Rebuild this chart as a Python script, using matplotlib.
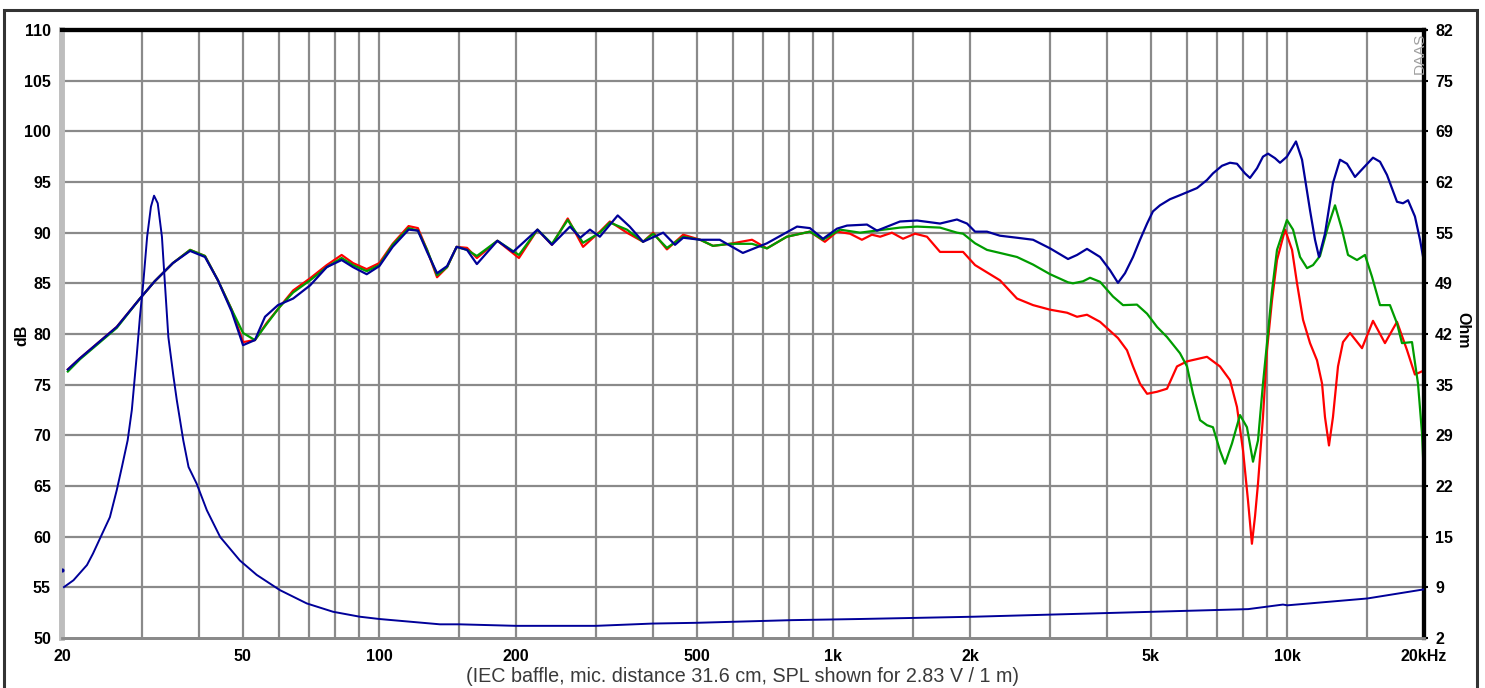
import matplotlib
matplotlib.use('Agg')
import matplotlib.pyplot as plt
import numpy as np

plt.rcParams['font.family'] = ['Liberation Sans', 'DejaVu Sans']

# ---- data ----
# SPL, red curve (Hz, dB)
red_f = [20.6, 21.9, 26.4, 29.7, 32.0, 35.1, 38.3, 41.3, 44.1, 47.3, 50.1, 53.2, 56.5, 60.4, 64.6,
         70.4, 76.6, 82.6, 87.5, 93.8, 100, 107, 116, 121.6, 127.4, 134, 141, 148, 156, 164, 182,
         203, 223, 240, 260, 281, 306, 322, 351, 381, 401, 430, 467, 509, 543, 592, 662, 714, 790,
         888, 958, 1019, 1088, 1156, 1216, 1268, 1346, 1424, 1513, 1608, 1718, 1931, 2052, 2328,
         2538, 2754, 3002, 3272, 3442, 3620, 3868, 4236, 4434, 4572, 4737, 4910, 5164, 5432, 5714,
         6012, 6654, 7106, 7476, 7746, 7988, 8190, 8356, 8488, 8618, 8838, 9020, 9254, 9490, 9884,
         10242, 10504, 10830, 11220, 11624, 11926, 12104, 12352, 12604, 12930, 13262, 13742,
         14604, 15442, 16408, 17440, 18352, 19100, 20000]
red_db = [76.5, 77.6, 80.7, 83.5, 85.2, 87.0, 88.3, 87.7, 85.3, 82.4, 79.2, 79.4, 81.1, 82.7, 84.3,
          85.5, 86.8, 87.8, 87.0, 86.4, 87.0, 88.9, 90.65, 90.45, 88.3, 85.6, 86.6, 88.6, 88.5, 87.5,
          89.2, 87.5, 90.3, 88.8, 91.4, 88.6, 90.1, 91.1, 90.0, 89.1, 90.0, 88.35, 89.8, 89.3, 88.7,
          88.9, 89.3, 88.45, 89.6, 90.1, 89.1, 90.1, 89.9, 89.3, 89.8, 89.6, 90.0, 89.4, 89.9, 89.6,
          88.1, 88.1, 86.8, 85.3, 83.5, 82.85, 82.4, 82.1, 81.7, 81.9, 81.2, 79.6, 78.4, 76.8, 75.1,
          74.1, 74.3, 74.6, 76.8, 77.3, 77.75, 76.8, 75.45, 72.8, 68.5, 63.6, 59.3, 62.0, 65.25,
          71.8, 78.4, 83.35, 87.3, 90.3, 88.3, 85.0, 81.4, 79.1, 77.4, 75.1, 71.8, 69.0, 71.8, 76.8,
          79.2, 80.1, 78.6, 81.3, 79.1, 81.2, 78.4, 76.0, 76.4]

# SPL, green curve
green_f = [20.6, 21.9, 26.4, 29.7, 32.0, 35.1, 38.3, 41.3, 44.1, 47.3, 50.1, 53.2, 56.5, 60.4, 64.6,
           70.4, 76.6, 82.6, 87.5, 93.8, 100, 107, 116, 121.6, 127.4, 134, 141, 148, 156, 164, 182,
           203, 223, 240, 260, 281, 306, 322, 351, 381, 401, 430, 467, 509, 543, 592, 662, 714, 790,
           888, 949, 1034, 1145, 1402, 1529, 1718, 1872, 1931, 2052, 2180, 2328, 2538, 2754, 3002,
           3288, 3372, 3548, 3676, 3868, 4130, 4346, 4664, 4910, 5164, 5432, 5802, 6012, 6198,
           6422, 6654, 6858, 7106, 7290, 7552, 7866, 8148, 8402, 8618, 8838, 9020, 9254, 9490,
           9980, 10294, 10666, 11052, 11392, 11802, 12290, 12736, 13196, 13604, 14238, 14826,
           15364, 16000, 16828, 17440, 17888, 18820, 19400, 19800, 20000]
green_db = [76.3, 77.5, 80.6, 83.5, 85.2, 87.0, 88.3, 87.7, 85.3, 82.4, 80.1, 79.4, 81.0, 82.7, 84.1,
            85.3, 86.6, 87.5, 86.8, 86.2, 86.8, 88.8, 90.45, 90.2, 88.3, 85.8, 86.6, 88.6, 88.3, 87.7,
            89.2, 87.8, 90.3, 88.9, 91.25, 89.0, 90.0, 91.0, 90.3, 89.1, 89.9, 88.5, 89.6, 89.3, 88.7,
            88.9, 88.9, 88.45, 89.6, 90.1, 89.3, 90.3, 90.0, 90.5, 90.6, 90.5, 90.0, 89.9, 88.95,
            88.3, 88.0, 87.6, 86.85, 85.9, 85.1, 85.0, 85.2, 85.55, 85.15, 83.7, 82.85, 82.9, 82.0,
            80.7, 79.7, 78.1, 76.8, 74.1, 71.5, 71.0, 70.8, 68.5, 67.2, 69.2, 72.0, 70.8, 67.4, 69.5,
            75.1, 79.1, 84.3, 88.3, 91.25, 90.3, 87.6, 86.5, 86.8, 87.7, 90.6, 92.7, 90.3, 87.8,
            87.3, 87.8, 85.65, 82.85, 82.85, 81.05, 79.1, 79.2, 75.1, 70.2, 65.75]

# SPL, dark blue curve
blue_f = [20.6, 21.9, 26.4, 29.7, 32.0, 35.1, 38.3, 41.3, 44.1, 47.3, 50.1, 53.2, 56.0, 59.8, 64.6,
          70.4, 76.6, 82.6, 87.5, 93.8, 100, 107, 116, 121.6, 127.4, 134, 141, 148, 156, 164, 182,
          197, 223, 240, 263, 277, 291, 306, 335, 356, 381, 422, 448, 467, 509, 562, 632, 714, 832,
          888, 949, 1019, 1072, 1186, 1248, 1402, 1529, 1718, 1872, 1970, 2052, 2180, 2328, 2538,
          2754, 3002, 3288, 3442, 3620, 3868, 4068, 4236, 4390, 4572, 4737, 4910, 5058, 5242, 5514,
          5802, 6325, 6654, 6858, 7178, 7476, 7746, 8068, 8274, 8574, 8838, 9066, 9394, 9636, 9980,
          10448, 10774, 11220, 11508, 11742, 12104, 12604, 13062, 13534, 14094, 14678, 15442,
          16000, 16576, 17440, 17978, 18444, 19100, 19600, 20000]
blue_db = [76.5, 77.6, 80.7, 83.5, 85.2, 87.0, 88.2, 87.6, 85.3, 82.2, 78.9, 79.4, 81.7, 82.85, 83.5,
           84.8, 86.6, 87.3, 86.6, 85.9, 86.7, 88.6, 90.3, 90.2, 88.1, 86.0, 86.7, 88.6, 88.3, 86.9,
           89.2, 88.1, 90.3, 88.8, 90.6, 89.5, 90.3, 89.6, 91.7, 90.6, 89.1, 90.0, 88.8, 89.5, 89.3,
           89.3, 88.0, 88.95, 90.6, 90.45, 89.4, 90.4, 90.7, 90.8, 90.2, 91.1, 91.2, 90.9, 91.3,
           90.9, 90.1, 90.1, 89.7, 89.5, 89.3, 88.45, 87.4, 87.8, 88.4, 87.6, 86.3, 85.05, 86.0,
           87.6, 89.3, 90.9, 92.1, 92.7, 93.3, 93.7, 94.4, 95.2, 95.85, 96.6, 96.9, 96.8, 95.85,
           95.4, 96.35, 97.5, 97.8, 97.35, 96.9, 97.5, 99.0, 97.2, 92.2, 89.3, 87.6, 89.9, 94.9,
           97.2, 96.8, 95.5, 96.35, 97.4, 97.0, 95.7, 93.05, 92.9, 93.2, 91.6, 89.3, 87.1]

# impedance (Hz, Ohm)
imp_f = [20.2, 21.2, 22.7, 23.4, 24.25, 25.5, 26.4, 27.1, 27.9, 28.5, 29.2, 29.7, 30.2, 30.8, 31.4,
         31.9, 32.5, 33.2, 33.7, 34.3, 35.2, 35.8, 37.0, 38.0, 39.6, 41.7, 44.6, 49.3, 53.7, 60.4,
         69.2, 79.1, 90.6, 100, 136, 150, 200, 300, 400, 500, 810, 1145, 2040, 4100, 8200, 9780,
         10000, 15000, 20000]
imp_ohm = [8.7, 9.6, 11.6, 13.1, 15.1, 17.9, 21.45, 24.5, 28.0, 32.0, 39.0, 44.3, 48.7, 54.8, 58.75,
           60.2, 59.2, 54.8, 48.7, 41.6, 36.4, 33.3, 28.0, 24.5, 22.3, 18.8, 15.3, 12.2, 10.3, 8.3,
           6.55, 5.45, 4.8, 4.5, 3.8, 3.8, 3.6, 3.6, 3.9, 4.0, 4.35, 4.5, 4.8, 5.3, 5.8, 6.4,
           6.3, 7.2, 8.4]
imp_dot_f = [20.05]
imp_dot_ohm = [10.9]

# axis labels
x_grid = [30, 40, 50, 60, 70, 80, 90, 100, 150, 200, 300, 400, 500, 600, 700, 800, 900,
          1000, 1500, 2000, 3000, 4000, 5000, 6000, 7000, 8000, 9000, 10000, 15000]
x_ticks = [20, 50, 100, 200, 500, 1000, 2000, 5000, 10000, 20000]
x_labels = ['20', '50', '100', '200', '500', '1k', '2k', '5k', '10k', '20kHz']
db_ticks = list(range(50, 111, 5))
ohm_labels = ['2', '9', '15', '22', '29', '35', '42', '49', '55', '62', '69', '75', '82']

# ---- figure ----
fig = plt.figure(figsize=(14.85, 6.88), dpi=100)
ax = fig.add_axes([62 / 1485, 1 - 638 / 688, (1424 - 62) / 1485, (638 - 30) / 688])

ax.set_xscale('log')
ax.set_xlim(20, 20000)
ax.set_ylim(50, 110)

grid_c = '#8a8a8a'
for f in x_grid:
    ax.axvline(f, color=grid_c, lw=1.6, zorder=1)
for d in db_ticks[1:-1]:
    ax.axhline(d, color=grid_c, lw=1.6, zorder=1)

tick_fs = 11.5
ax.set_xticks(x_ticks)
ax.set_xticklabels(x_labels, fontsize=tick_fs, fontweight='bold')
ax.xaxis.set_minor_locator(matplotlib.ticker.NullLocator())
ax.set_yticks(db_ticks)
ax.set_yticklabels([str(d) for d in db_ticks], fontsize=tick_fs, fontweight='bold')
ax.tick_params(axis='both', length=0, pad=8)

ax2 = ax.twinx()
ax2.set_ylim(2, 82)
ax2.set_yticks(np.linspace(2, 82, 13))
ax2.set_yticklabels(ohm_labels, fontsize=tick_fs, fontweight='bold')
ax2.tick_params(axis='y', length=3, width=1.5, pad=5)

for a in (ax, ax2):
    a.spines['top'].set_color('black')
    a.spines['top'].set_linewidth(3)
    a.spines['right'].set_color('black')
    a.spines['right'].set_linewidth(3)
    a.spines['left'].set_color('#bdbdbd')
    a.spines['left'].set_linewidth(4)
    a.spines['bottom'].set_color('#8a8a8a')
    a.spines['bottom'].set_linewidth(2)

ax.plot(red_f, red_db, color='#ff0000', lw=1.6, zorder=3)
ax.plot(green_f, green_db, color='#009c00', lw=1.6, zorder=4)
ax.plot(blue_f, blue_db, color='#000099', lw=1.6, zorder=5)
ax2.plot(imp_f, imp_ohm, color='#000099', lw=1.4, zorder=5)
ax2.plot(imp_dot_f, imp_dot_ohm, 'o', color='#000099', ms=2, zorder=5)

ax2.text(0.9968, 0.995, 'DAAS', transform=ax2.transAxes, rotation=90, ha='center', va='top',
         fontsize=11, color='#a0a0a0')

fig.text(22 / 1485, 1 - 335 / 688, 'dB', rotation=90, ha='center', va='center',
         fontsize=tick_fs, fontweight='bold')
fig.text(1463 / 1485, 1 - 330 / 688, 'Ohm', rotation=-90, ha='center', va='center',
         fontsize=tick_fs, fontweight='bold')
fig.text(742 / 1485, 1 - 677 / 688, '(IEC baffle, mic. distance 31.6 cm, SPL shown for 2.83 V / 1 m)',
         ha='center', va='center', fontsize=14.2, color='#3a3a3a')

# outer frame
fig.add_artist(plt.Rectangle((4 / 1485, -0.01), (1477 - 4) / 1485, 1 - 10 / 688 + 0.01,
                             transform=fig.transFigure, fill=False, lw=2.2, ec='#333333'))

fig.savefig('out.png', dpi=100)
